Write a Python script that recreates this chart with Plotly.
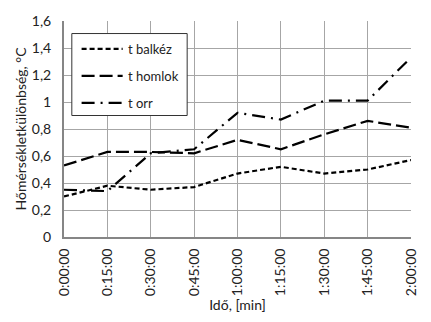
import plotly.graph_objects as go

times = ["0:00:00", "0:15:00", "0:30:00", "0:45:00", "1:00:00",
         "1:15:00", "1:30:00", "1:45:00", "2:00:00"]
t_balkez = [0.30, 0.38, 0.35, 0.37, 0.47, 0.52, 0.47, 0.50, 0.57]
t_homlok = [0.53, 0.63, 0.63, 0.62, 0.72, 0.65, 0.76, 0.86, 0.81]
t_orr = [0.35, 0.34, 0.62, 0.65, 0.92, 0.87, 1.01, 1.01, 1.33]
y_ticks = [0, 0.2, 0.4, 0.6, 0.8, 1.0, 1.2, 1.4, 1.6]
y_labels = ["0", "0,2", "0,4", "0,6", "0,8", "1", "1,2", "1,4", "1,6"]

x = list(range(len(times)))
FONT = "Lato"
W, H = 431, 322
ML, MR, MT, MB = 64, 12, 14, 84

series = [
    ("t balkéz", t_balkez, "5px,3px"),
    ("t homlok", t_homlok, "13px,5px"),
    ("t orr", t_orr, "13px,6px,2px,6px"),
]

fig = go.Figure()
for name, vals, dash in series:
    fig.add_trace(go.Scatter(
        x=x, y=vals, name=name, mode="lines", showlegend=False,
        line=dict(color="black", width=2.2, dash=dash),
    ))

# legend box drawn in pixel-based paper coordinates
def px(xp):
    return (xp - ML) / (W - ML - MR)

def py(yp):
    return 1 - (yp - MT) / (H - MT - MB)

shapes = [dict(type="rect", xref="paper", yref="paper",
               x0=px(72), x1=px(190), y0=py(112), y1=py(27),
               line=dict(color="#333", width=1), fillcolor="white",
               layer="above")]
annotations = []
for i, (name, _, dash) in enumerate(series):
    yc = 43 + 28 * i
    shapes.append(dict(type="line", xref="paper", yref="paper",
                       x0=px(82), x1=px(124), y0=py(yc), y1=py(yc),
                       line=dict(color="black", width=2.2, dash=dash),
                       layer="above"))
    annotations.append(dict(xref="paper", yref="paper", x=px(127), y=py(yc),
                            xanchor="left", yanchor="middle", showarrow=False,
                            text=name, font=dict(family=FONT, size=13, color="#222")))

fig.update_layout(
    width=W, height=H,
    margin=dict(l=ML, r=MR, t=MT, b=MB),
    plot_bgcolor="white", paper_bgcolor="white",
    font=dict(family=FONT, size=14, color="#222"),
    shapes=shapes, annotations=annotations,
    xaxis=dict(
        range=[0, 8], tickmode="array", tickvals=x, ticktext=times,
        tickangle=-90, showgrid=True, gridcolor="#a6a6a6", gridwidth=1,
        showline=True, linecolor="#868686", linewidth=2,
        ticks="", zeroline=False, ticklabelstandoff=4,
        tickfont=dict(family=FONT, size=14, color="#222"),
        title=dict(text="Idő, [min]", font=dict(family=FONT, size=14), standoff=4),
    ),
    yaxis=dict(
        range=[0, 1.6], tickmode="array", tickvals=y_ticks, ticktext=y_labels,
        showgrid=True, gridcolor="#a6a6a6", gridwidth=1,
        showline=True, linecolor="#868686", linewidth=2,
        ticks="", zeroline=False, ticklabelstandoff=8,
        tickfont=dict(family=FONT, size=14, color="#222"),
        title=dict(text="Hőmérsékletkülönbség, °C", font=dict(family=FONT, size=14), standoff=2),
    ),
)

fig.write_html("out.html")
